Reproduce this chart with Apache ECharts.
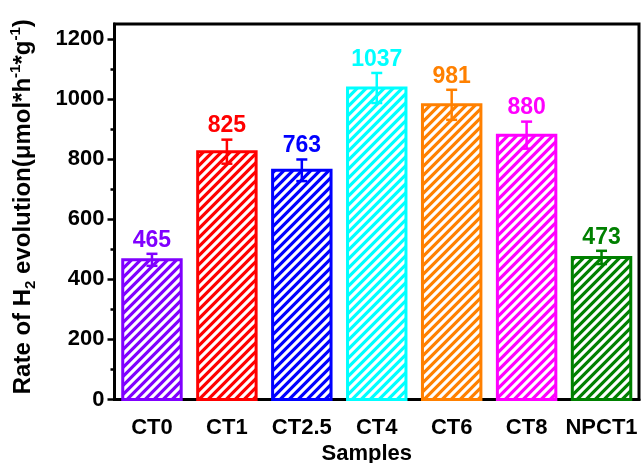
<!DOCTYPE html>
<html>
<head>
<meta charset="utf-8">
<script src="https://cdn.jsdelivr.net/npm/echarts@6/dist/echarts.min.js"></script>
<style>
  html, body { margin: 0; padding: 0; background: #fff; }
  #chart { width: 644px; height: 463px; }
</style>
</head>
<body>
<div id="chart"></div>
<script>
// Hydrogen evolution rate per sample, with error bars
const samples = ['CT0', 'CT1', 'CT2.5', 'CT4', 'CT6', 'CT8', 'NPCT1'];
const rates = [465, 825, 763, 1037, 981, 880, 473];
const errors = [20, 40, 36, 50, 50, 45, 22];
const barColors = ['#8000FF', '#FF0000', '#0000FF', '#00FFFF', '#FF8000', '#FF00FF', '#008000'];
const yMajorTicks = [0, 200, 400, 600, 800, 1000, 1200];
const yMinorTicks = [100, 300, 500, 700, 900, 1100];

const FONT = '"Liberation Sans", Arial, Helvetica, sans-serif';

// Diagonal hatch tile: coloured fill crossed by white "/" stripes
function hatch(color) {
  const s = 9;
  const c = document.createElement('canvas');
  c.width = s; c.height = s;
  const ctx = c.getContext('2d');
  ctx.fillStyle = color;
  ctx.fillRect(0, 0, s, s);
  ctx.strokeStyle = '#ffffff';
  ctx.lineWidth = 3.2;
  ctx.beginPath();
  ctx.moveTo(-1, s + 1); ctx.lineTo(s + 1, -1);
  ctx.moveTo(-2, 2); ctx.lineTo(2, -2);
  ctx.moveTo(s - 2, s + 2); ctx.lineTo(s + 2, s - 2);
  ctx.stroke();
  return c;
}
const patterns = barColors.map(hatch);

const seriesData = samples.map((name, i) => [i, rates[i], errors[i]]);

function renderBar(params, api) {
  const i = api.value(0);
  const v = api.value(1);
  const e = api.value(2);
  const color = barColors[params.dataIndex];
  const base = api.coord([i, 0]);
  const top = api.coord([i, v]);
  const hi = api.coord([i, v + e]);
  const lo = api.coord([i, v - e]);
  const bw = api.size([1, 0])[0] * 0.78;
  const cx = base[0];
  const capHalf = 5.5;
  return {
    type: 'group',
    children: [
      {
        type: 'rect',
        shape: { x: cx - bw / 2, y: top[1], width: bw, height: base[1] - top[1] },
        style: { fill: { image: patterns[params.dataIndex], repeat: 'repeat' }, stroke: color, lineWidth: 3 }
      },
      {
        type: 'line',
        shape: { x1: cx, y1: lo[1], x2: cx, y2: hi[1] },
        style: { stroke: color, lineWidth: 2.5 }
      },
      {
        type: 'line',
        shape: { x1: cx - capHalf, y1: hi[1], x2: cx + capHalf, y2: hi[1] },
        style: { stroke: color, lineWidth: 2.5 }
      },
      {
        type: 'line',
        shape: { x1: cx - capHalf, y1: lo[1], x2: cx + capHalf, y2: lo[1] },
        style: { stroke: color, lineWidth: 2.5 }
      },
      {
        type: 'text',
        style: {
          text: String(v),
          x: cx,
          y: hi[1] - 2,
          align: 'center',
          verticalAlign: 'bottom',
          fill: color,
          font: 'bold 23px ' + FONT
        }
      }
    ]
  };
}

const chart = echarts.init(document.getElementById('chart'), null, { renderer: 'canvas' });

const axisLabelStyle = { color: '#000', fontWeight: 'bold', fontSize: 22, fontFamily: FONT };

chart.setOption({
  animation: false,
  backgroundColor: '#ffffff',
  grid: {
    left: 114.5, right: 5, top: 24, bottom: 63.5,
    show: true, borderColor: '#000', borderWidth: 3,
    containLabel: false, outerBoundsMode: 'none'
  },
  xAxis: [
    {
      type: 'category',
      data: samples,
      position: 'bottom',
      boundaryGap: true,
      name: 'Samples',
      nameLocation: 'middle',
      nameGap: 38,
      nameTextStyle: { color: '#000', fontWeight: 'bold', fontSize: 22, fontFamily: FONT, padding: [0, 20, 0, 0] },
      axisLine: { lineStyle: { color: '#000', width: 3 } },
      axisTick: { alignWithLabel: true, length: 6, lineStyle: { color: '#000', width: 2.5 } },
      axisLabel: Object.assign({ margin: 17, interval: 0 }, axisLabelStyle),
      splitLine: { show: false }
    },
    {
      type: 'category',
      data: samples,
      position: 'bottom',
      boundaryGap: true,
      axisLine: { show: false },
      axisTick: { alignWithLabel: false, interval: 0, length: 4, lineStyle: { color: '#000', width: 2.5 } },
      axisLabel: { show: false },
      splitLine: { show: false }
    }
  ],
  yAxis: [
    {
      type: 'value',
      min: 0,
      max: 1250,
      interval: 200,
      position: 'left',
      name: '{n|Rate of H}{sub|2}{n| evolution(μmol*h}{sup|-1}{n|*g}{sup|-1}{n|)}',
      nameLocation: 'middle',
      nameRotate: 90,
      nameGap: 76,
      nameTextStyle: {
        color: '#000', fontWeight: 'bold', fontFamily: FONT,
        padding: [0, 0, 0, 10],
        rich: {
          n: { fontSize: 24, fontWeight: 'bold', fontFamily: FONT, color: '#000', lineHeight: 30 },
          sub: { fontSize: 15, fontWeight: 'bold', fontFamily: FONT, color: '#000', lineHeight: 15, verticalAlign: 'bottom' },
          sup: { fontSize: 15, fontWeight: 'bold', fontFamily: FONT, color: '#000', lineHeight: 15, verticalAlign: 'top' }
        }
      },
      axisLine: { show: true, lineStyle: { color: '#000', width: 3 } },
      axisTick: { show: true, length: 7, customValues: yMajorTicks, lineStyle: { color: '#000', width: 2.5 } },
      axisLabel: Object.assign({ margin: 10, customValues: yMajorTicks, formatter: (v) => String(v) }, axisLabelStyle),
      splitLine: { show: false }
    },
    {
      type: 'value',
      min: 0,
      max: 1250,
      interval: 200,
      position: 'left',
      axisLine: { show: false },
      axisTick: { show: true, length: 4, customValues: yMinorTicks, lineStyle: { color: '#000', width: 2.5 } },
      axisLabel: { show: false },
      splitLine: { show: false }
    }
  ],
  series: [
    {
      type: 'custom',
      xAxisIndex: 0,
      yAxisIndex: 0,
      renderItem: renderBar,
      encode: { x: 0, y: 1 },
      data: seriesData,
      z: 5
    }
  ]
});
</script>
</body>
</html>
